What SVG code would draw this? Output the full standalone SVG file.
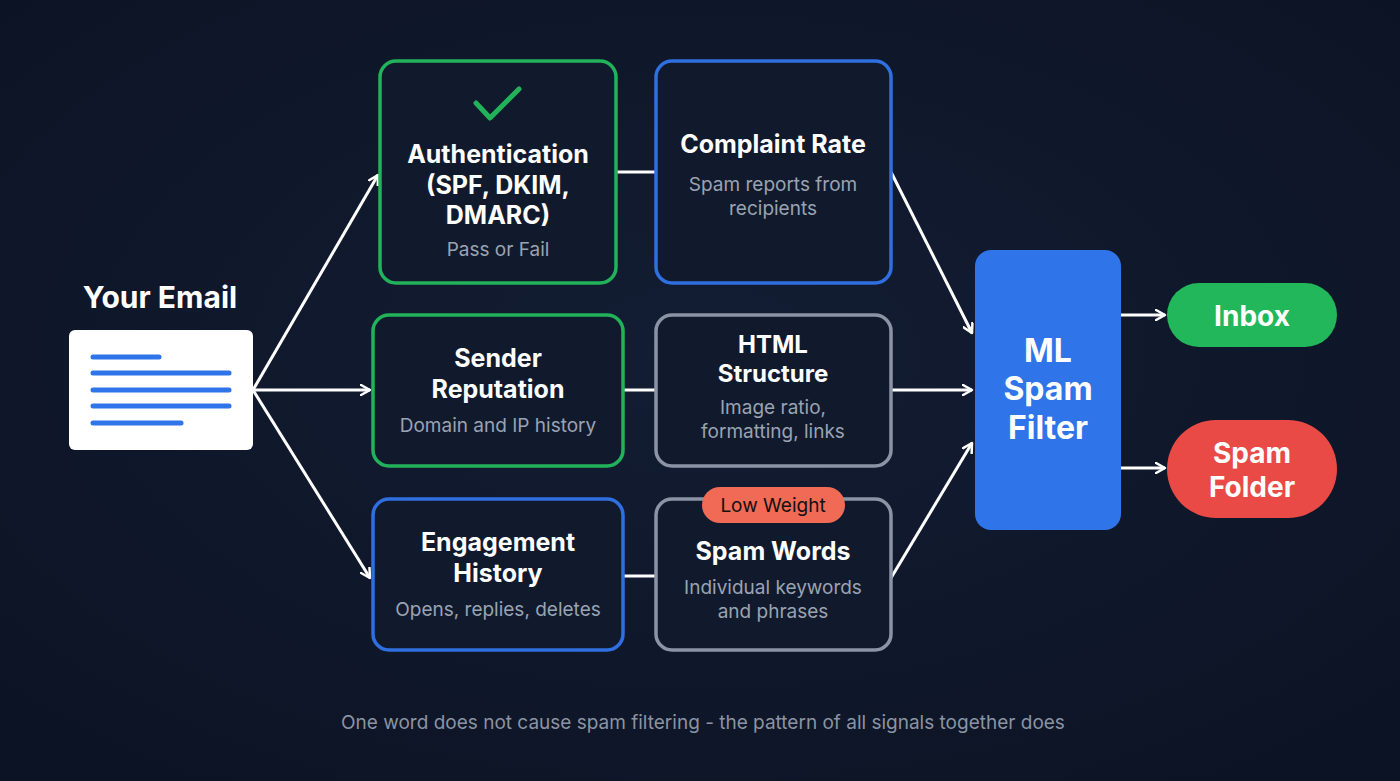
<svg xmlns="http://www.w3.org/2000/svg" width="1400" height="781" viewBox="0 0 1400 781">
<defs>
<radialGradient id="bg" cx="50%" cy="45%" r="70%"><stop offset="0" stop-color="#131d33"/><stop offset="1" stop-color="#0c1324"/></radialGradient>
<marker id="ah" viewBox="0 0 12 12" refX="10" refY="6" markerWidth="12" markerHeight="12" markerUnits="userSpaceOnUse" orient="auto"><path d="M1,1 L10,6 L1,11" fill="none" stroke="#fff" stroke-width="2.5" stroke-linecap="round" stroke-linejoin="round"/></marker>
<style>
text{font-family:Inter,"Noto Sans","Liberation Sans",sans-serif;text-anchor:middle}
.box{fill:#111a2d;stroke-width:3.5}
.g{stroke:#22b35a}.b{stroke:#2f6fe0}.s{stroke:#8a94a6}
.t{fill:#fff;font-size:25px;font-weight:700}
.d{fill:#9aa3b2;font-size:19px}
.c{stroke:#fff;stroke-width:3;fill:none}
.l{stroke:#2f74e8;stroke-width:5;stroke-linecap:round}
</style>
</defs>
<rect width="1400" height="781" fill="url(#bg)"/>
<g id="connectors">
<path class="c" d="M253,390 L378,175" marker-end="url(#ah)"/>
<path class="c" d="M253,390 L370,390" marker-end="url(#ah)"/>
<path class="c" d="M253,390 L370,578" marker-end="url(#ah)"/>
<path class="c" d="M616,172 L656,172"/>
<path class="c" d="M623,390 L656,390"/>
<path class="c" d="M623,576 L656,576"/>
<path class="c" d="M891,172 L972,333" marker-end="url(#ah)"/>
<path class="c" d="M891,390 L972,390" marker-end="url(#ah)"/>
<path class="c" d="M891,578 L972,443" marker-end="url(#ah)"/>
<path class="c" d="M1121,315 L1165,315" marker-end="url(#ah)"/>
<path class="c" d="M1121,468 L1165,468" marker-end="url(#ah)"/>
</g>
<g id="email">
<text x="160" y="308" class="t" style="font-size:30px">Your Email</text>
<rect x="69" y="330" width="184" height="120" rx="6" fill="#fff"/>
<line class="l" x1="93" y1="357" x2="159" y2="357"/>
<line class="l" x1="93" y1="373" x2="229" y2="373"/>
<line class="l" x1="93" y1="390" x2="229" y2="390"/>
<line class="l" x1="93" y1="406" x2="229" y2="406"/>
<line class="l" x1="93" y1="423" x2="181" y2="423"/>
</g>
<g id="auth">
<rect class="box g" x="380" y="61" width="236" height="222" rx="16"/>
<path d="M476,103 L490,118 L519,89" fill="none" stroke="#22b35a" stroke-width="5" stroke-linecap="round" stroke-linejoin="round"/>
<text x="498" y="163" class="t">Authentication</text>
<text x="498" y="194" class="t">(SPF, DKIM,</text>
<text x="498" y="224" class="t">DMARC)</text>
<text x="498" y="256" class="d">Pass or Fail</text>
</g>
<g id="complaint">
<rect class="box b" x="656" y="61" width="235" height="222" rx="16"/>
<text x="773" y="153" class="t">Complaint Rate</text>
<text x="773" y="191" class="d">Spam reports from</text>
<text x="773" y="215" class="d">recipients</text>
</g>
<g id="sender">
<rect class="box g" x="373" y="315" width="250" height="151" rx="16"/>
<text x="498" y="367" class="t">Sender</text>
<text x="498" y="398" class="t">Reputation</text>
<text x="498" y="432" class="d">Domain and IP history</text>
</g>
<g id="html">
<rect class="box s" x="656" y="315" width="235" height="151" rx="16"/>
<text x="773" y="353" class="t" style="font-size:24px">HTML</text>
<text x="773" y="382" class="t" style="font-size:24px">Structure</text>
<text x="773" y="414" class="d">Image ratio,</text>
<text x="773" y="438" class="d">formatting, links</text>
</g>
<g id="engagement">
<rect class="box b" x="373" y="499" width="250" height="151" rx="16"/>
<text x="498" y="551" class="t">Engagement</text>
<text x="498" y="582" class="t">History</text>
<text x="498" y="616" class="d">Opens, replies, deletes</text>
</g>
<g id="spamwords">
<rect class="box s" x="656" y="499" width="235" height="151" rx="16"/>
<rect x="702" y="487" width="143" height="36" rx="18" fill="#f06a55"/>
<text x="773" y="512" style="fill:#111;font-size:19px">Low Weight</text>
<text x="773" y="560" class="t">Spam Words</text>
<text x="773" y="594" class="d">Individual keywords</text>
<text x="773" y="618" class="d">and phrases</text>
</g>
<g id="ml">
<rect x="975" y="250" width="146" height="280" rx="16" fill="#2f74e8"/>
<text x="1048" y="362" class="t" style="font-size:32px">ML</text>
<text x="1048" y="400" class="t" style="font-size:32px">Spam</text>
<text x="1048" y="439" class="t" style="font-size:32px">Filter</text>
</g>
<g id="inbox">
<rect x="1167" y="283" width="170" height="64" rx="32" fill="#22b75a"/>
<text x="1252" y="326" class="t" style="font-size:28px">Inbox</text>
</g>
<g id="spamfolder">
<rect x="1167" y="420" width="170" height="98" rx="49" fill="#e94a45"/>
<text x="1252" y="463" class="t" style="font-size:28px">Spam</text>
<text x="1252" y="497" class="t" style="font-size:28px">Folder</text>
</g>
<text x="703" y="729" style="fill:#8b93a3;font-size:19px">One word does not cause spam filtering - the pattern of all signals together does</text>
</svg>
